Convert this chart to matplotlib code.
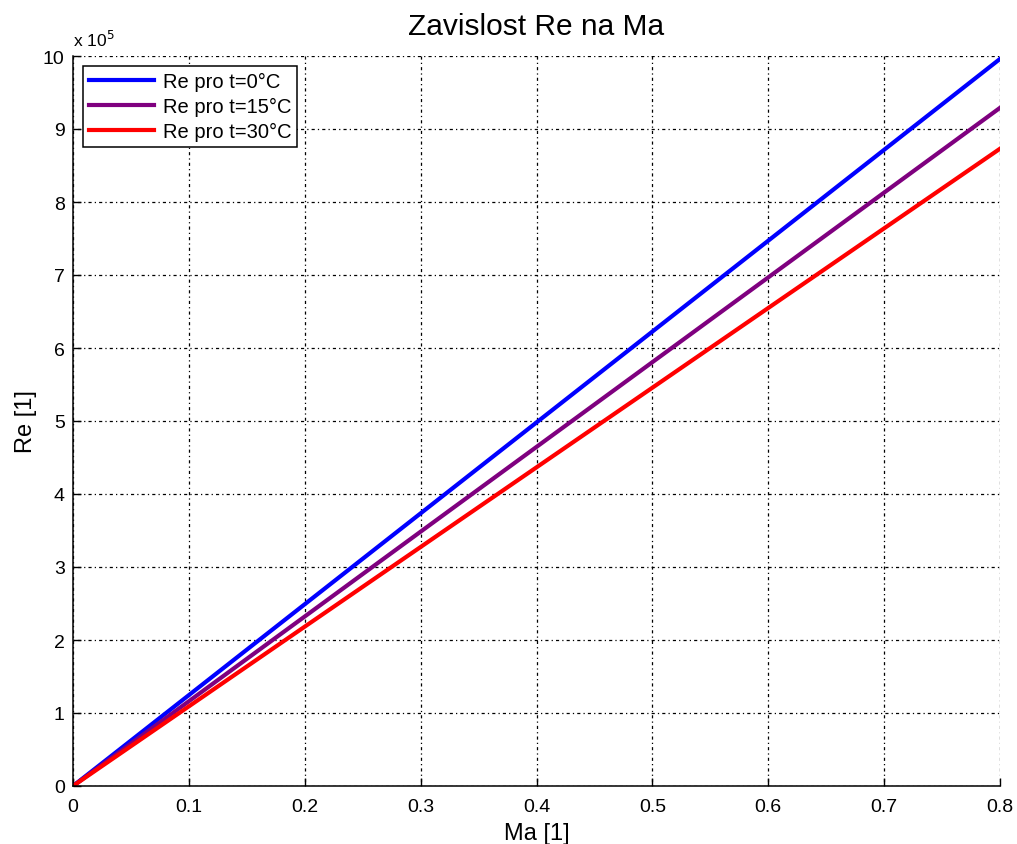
import matplotlib
matplotlib.use("Agg")
import matplotlib.pyplot as plt
import numpy as np

plt.rcParams['font.family'] = ['Liberation Sans', 'DejaVu Sans']

ma = [0.0, 0.1, 0.2, 0.3, 0.4, 0.5, 0.6, 0.7, 0.8]
re_0 = [0.0, 1.245, 2.49, 3.735, 4.98, 6.225, 7.47, 8.715, 9.96]
re_15 = [0.0, 1.161, 2.322, 3.484, 4.645, 5.806, 6.967, 8.129, 9.29]
re_30 = [0.0, 1.091, 2.183, 3.274, 4.365, 5.456, 6.548, 7.639, 8.73]
labels = ['Re pro t=0°C', 'Re pro t=15°C', 'Re pro t=30°C']
colors = ['#0000ff', '#7f007f', '#ff0000']
xticks = [0, 0.1, 0.2, 0.3, 0.4, 0.5, 0.6, 0.7, 0.8]
xticklabels = ['0', '0.1', '0.2', '0.3', '0.4', '0.5', '0.6', '0.7', '0.8']
yticks = list(range(0, 11))

fig = plt.figure(figsize=(10.17, 8.45), dpi=100)
ax = fig.add_axes([73/1017, 58/845, 927/1017, 730/845])

for ys, lab, c in zip([re_0, re_15, re_30], labels, colors):
    ax.plot(ma, ys, color=c, lw=3, label=lab)

ax.set_xlim(0, 0.8)
ax.set_ylim(0, 10)
ax.set_xticks(xticks)
ax.set_xticklabels(xticklabels)
ax.set_yticks(yticks)
ax.tick_params(direction='in', length=6, width=1, labelsize=14)
ax.tick_params(axis='x', pad=9)
ax.tick_params(axis='y', pad=6)
for s in ['top', 'right']:
    ax.spines[s].set_visible(False)
for s in ['left', 'bottom']:
    ax.spines[s].set_linewidth(1.1)
ax.grid(True, color='black', linestyle=(0, (1, 2.5, 2.5, 2.5)), linewidth=0.9)
ax.set_axisbelow(True)

ax.set_title('Zavislost Re na Ma', fontsize=21.5, pad=16)
ax.set_xlabel('Ma [1]', fontsize=17, labelpad=5)
ax.set_ylabel('Re [1]', fontsize=17, labelpad=4)
ax.text(0, 1.01, r'x 10$^5$', transform=ax.transAxes, fontsize=12.5, ha='left', va='bottom')

leg = ax.legend(loc='upper left', fontsize=14.5, fancybox=False, edgecolor='black',
                framealpha=1, borderaxespad=0.5, handlelength=3.2, handletextpad=0.45,
                labelspacing=0.3, borderpad=0.3)
leg.get_frame().set_linewidth(1.1)

fig.savefig('out.png', dpi=100)
